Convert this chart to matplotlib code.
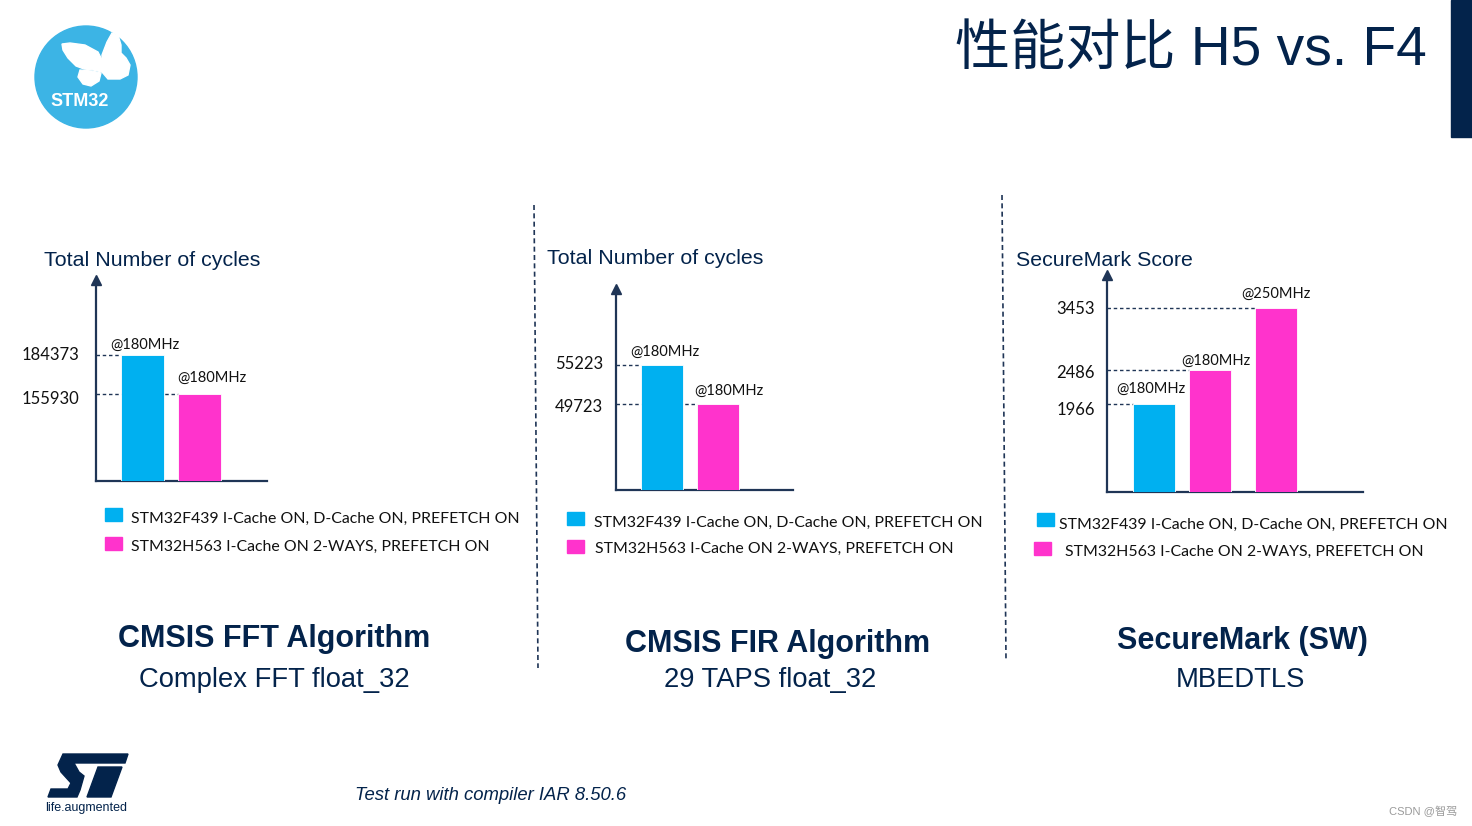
import matplotlib
matplotlib.use("Agg")
import numpy as np
import matplotlib.pyplot as plt
from matplotlib.patches import Rectangle, Circle, Polygon
from matplotlib.lines import Line2D

# ---------------- data ----------------
series_labels = ["STM32F439 I-Cache ON, D-Cache ON, PREFETCH ON",
                 "STM32H563 I-Cache ON 2-WAYS, PREFETCH ON"]
fft_values = [184373, 155930]
fft_freqs = ["@180MHz", "@180MHz"]
fir_values = [55223, 49723]
fir_freqs = ["@180MHz", "@180MHz"]
sm_values = [1966, 2486, 3453]
sm_freqs = ["@180MHz", "@180MHz", "@250MHz"]
axis_titles = ["Total Number of cycles", "Total Number of cycles", "SecureMark Score"]
chart_titles = ["CMSIS FFT Algorithm", "CMSIS FIR Algorithm", "SecureMark (SW)"]
chart_subtitles = ["Complex FFT float_32", "29 TAPS float_32", "MBEDTLS"]
slide_title = "性能对比 H5 vs. F4"
footnote = "Test run with compiler IAR 8.50.6"
watermark = "CSDN @智驾"

# ---------------- style ----------------
W, H, DPI = 1472, 826, 100
NAVY = "#03234B"
AXC = "#1F3556"
BLUE = "#00B0F0"
PINK = "#FF33CC"
TXT = "#111111"
ARIAL = ["Liberation Sans", "Noto Sans CJK SC"]
CAL = ["Lato", "DejaVu Sans"]
TY = 2  # text vertical nudge (px, downward)

fig = plt.figure(figsize=(W / DPI, H / DPI), dpi=DPI)
fig.patch.set_facecolor("white")


def fx(x):
    return x / W


def fy(y):
    return 1 - y / H


def px2pt(p):
    return p * 72.0 / DPI


charts = [
    dict(values=fft_values, freqs=fft_freqs, colors=[BLUE, PINK],
         box=(96, 267, 280, 481), ylim=(92500, 239100), pos=[0, 1],
         xlim=(-0.823, 2.20), width=0.76,
         fdx=[2, 13], fdy=[12, 18], vdx=17, vdy=[2, -3],
         title_xy=(44, 258),
         leg=[(105, 508, 131, 517), (105, 537, 131, 545)],
         bt=(274, 637), st=(274, 678)),
    dict(values=fir_values, freqs=fir_freqs, colors=[BLUE, PINK],
         box=(616, 793, 289, 490), ylim=(37600, 65950), pos=[0, 1],
         xlim=(-0.821, 2.34), width=0.75,
         fdx=[3, 11], fdy=[15, 15], vdx=13, vdy=[3, -1],
         title_xy=(547, 257),
         leg=[(567, 512, 594, 521), (567, 540, 595, 547)],
         bt=(778, 642), st=(770, 678)),
    dict(values=sm_values, freqs=sm_freqs, colors=[BLUE, PINK, PINK],
         box=(1107, 1363, 275, 492), ylim=(603, 3964), pos=[0, 1, 2.17],
         xlim=(-0.839, 3.73), width=0.75,
         fdx=[-3, 6, 0], fdy=[17, 12, 16], vdx=12, vdy=[-4, -1, 1],
         title_xy=(1016, 258),
         leg=[(1037, 513, 1059, 523), (1034, 542, 1065, 550)],
         bt=(1242, 639), st=(1240, 678)),
]

for c in charts:
    x0, x1, yt, yb = c["box"]
    ax = fig.add_axes([fx(x0), fy(yb), (x1 - x0) / W, (yb - yt) / H])
    ax.set_facecolor("none")
    ax.set_xlim(*c["xlim"])
    ax.set_ylim(*c["ylim"])
    for s in ["top", "right"]:
        ax.spines[s].set_visible(False)
    for s in ["left", "bottom"]:
        ax.spines[s].set_color(AXC)
        ax.spines[s].set_linewidth(1.6)
    ax.set_xticks([])
    ax.set_yticks([])
    pos = np.array(c["pos"], dtype=float)
    w = c["width"]
    ax.bar(pos, c["values"], width=w, color=c["colors"], zorder=3,
           edgecolor="white", linewidth=0.6)
    xl = c["xlim"][0]
    for i, v in enumerate(c["values"]):
        ax.hlines(v, xl, pos[i] - w / 2, colors=AXC, linestyles=(0, (2.5, 2)),
                  linewidth=1.0, zorder=1)
        ax.annotate(str(v), xy=(0, v), xycoords=("axes fraction", "data"),
                    xytext=(-px2pt(c["vdx"]), px2pt(c["vdy"][i] - TY)),
                    textcoords="offset points",
                    ha="right", va="center", fontsize=12, color=TXT,
                    family=CAL, annotation_clip=False)
        ax.annotate(c["freqs"][i], xy=(pos[i], v),
                    xytext=(px2pt(c["fdx"][i]), px2pt(c["fdy"][i] - TY)),
                    textcoords="offset points", ha="center", va="center",
                    fontsize=10.5, color=TXT, family=CAL,
                    annotation_clip=False)
    # arrow head on y axis
    ax.plot([xl], [c["ylim"][1]], marker="^", ms=7, color=AXC,
            clip_on=False, zorder=5)

    # legend
    for j, (sx, sy, tx, ty) in enumerate(c["leg"]):
        fig.patches.append(Rectangle((fx(sx), fy(sy + 13)), 17 / W, 13 / H,
                                     transform=fig.transFigure,
                                     color=[BLUE, PINK][j]))
        fig.text(fx(tx), fy(ty + TY), series_labels[j], ha="left", va="center",
                 fontsize=11.4, color=TXT, family=CAL)

for i, c in enumerate(charts):
    fig.text(fx(c["title_xy"][0]), fy(c["title_xy"][1] + TY), axis_titles[i],
             ha="left", va="center", fontsize=15.4, color=NAVY, family=ARIAL)
    fig.text(fx(c["bt"][0]), fy(c["bt"][1] + 2), chart_titles[i], ha="center",
             va="center", fontsize=22, fontweight="bold", color=NAVY,
             family=ARIAL)
    fig.text(fx(c["st"][0]), fy(c["st"][1] + 2), chart_subtitles[i], ha="center",
             va="center", fontsize=19.7, color=NAVY, family=ARIAL)

# separators
for (xa, ya, xb, yb) in [(534, 205, 538, 668), (1002, 195, 1006, 660)]:
    fig.add_artist(Line2D([fx(xa), fx(xb)], [fy(ya), fy(yb)], color=AXC,
                          lw=1.2, linestyle=(0, (3, 2)),
                          transform=fig.transFigure))

# slide title and right bar
fig.text(fx(1427), fy(51), slide_title, ha="right", va="center",
         fontsize=39.7, color=NAVY, family=ARIAL)
fig.patches.append(Rectangle((fx(1451), fy(137)), 21 / W, 137 / H,
                             transform=fig.transFigure, color=NAVY))

# STM32 logo
lax = fig.add_axes([0, 0, 1, 1])
lax.set_xlim(0, W)
lax.set_ylim(H, 0)
lax.axis("off")
lax.set_zorder(-1)
lax.add_patch(Circle((86, 77), 51, color="#3CB4E5"))
wings = [
    [(62, 44), (70, 43), (85, 45), (98, 52), (103, 62), (102, 72), (93, 70),
     (84, 69), (76, 66), (68, 58), (63, 50)],
    [(80, 70), (92, 71), (101, 73), (99, 81), (91, 86), (83, 84), (78, 77)],
    [(102, 55), (107, 42), (112, 33), (118, 35), (121, 45), (121, 53),
     (126, 58), (130, 65), (128, 75), (120, 79), (108, 79), (102, 72)],
]
for wv in wings:
    lax.add_patch(Polygon(wv, closed=True, color="white"))
lax.text(80, 102, "STM32", ha="center", va="center", fontsize=13,
         fontweight="bold", color="white", family=ARIAL)

# ST logo
st_polys = [
    [(63, 754), (128, 754), (125, 763), (74, 763), (79, 772), (84, 776),
     (80, 790), (77, 797), (48, 797), (51, 789), (68, 789), (71, 783),
     (61, 772), (58, 765)],
    [(98, 767), (122, 767), (111, 797), (87, 797)],
]
for p in st_polys:
    lax.add_patch(Polygon(p, closed=True, color=NAVY))
lax.text(86, 808, "life.augmented", ha="center", va="center", fontsize=9,
         color=NAVY, family=ARIAL)

# footnote & watermark
fig.text(fx(355), fy(794 + TY), footnote, ha="left", va="center", fontsize=13.3,
         style="italic", color=NAVY, family=ARIAL)
fig.text(fx(1457), fy(811), watermark, ha="right", va="center", fontsize=8,
         color="#9a9a9a", family=ARIAL)

fig.savefig("out.png", dpi=DPI, facecolor="white")
